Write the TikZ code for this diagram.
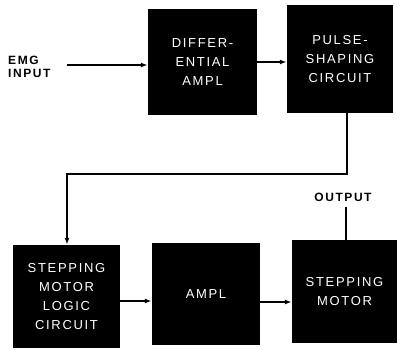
\documentclass[tikz,border=0pt]{standalone}
\usepackage{fontspec}
\setmainfont{Liberation Sans}
\newfontfamily\blockfont[LetterSpace=13]{Liberation Sans}
\newfontfamily\labelfont[LetterSpace=13]{Liberation Sans}
\usetikzlibrary{arrows.meta}
\tikzset{
    block/.style={fill=black,text=white,inner sep=0pt,align=center,
        font=\blockfont\fontsize{13}{19}\selectfont},
    lbl/.style={inner sep=0pt,align=left,font=\labelfont\bfseries\fontsize{12}{12.5}\selectfont},
    wire/.style={line width=1.5pt},
    arr/.style={wire,-{Latex[length=7pt,width=5pt]}}
}
\begin{document}
\begin{tikzpicture}[x=1pt,y=-1pt]
    \useasboundingbox(0,0)rectangle(397,350);
    % top row
    \node[block,minimum width=109pt,minimum height=106pt](diff)at(202.5,62){DIFFER-\\ENTIAL\\AMPL};
    \node[block,minimum width=106pt,minimum height=108pt](pulse)at(340,59){PULSE-\\SHAPING\\CIRCUIT};
    % bottom row
    \node[block,minimum width=107pt,minimum height=103pt](logic)at(66.5,296.5){STEPPING\\MOTOR\\LOGIC\\CIRCUIT};
    \node[block,minimum width=108pt,minimum height=102pt](ampl)at(206,294){AMPL};
    \node[block,minimum width=105pt,minimum height=103pt](motor)at(344.5,291.5){STEPPING\\MOTOR};
    % labels
    \node[lbl,anchor=west](emg)at(8,67){EMG\\INPUT};
    \node[lbl](out)at(343,197){OUTPUT};
    \coordinate(emgin)at(67,65);
    \coordinate(outtop)at(346,207);
    % connectors
    \draw[arr](emgin)--(emgin-|diff.west);
    \draw[arr](diff.east|-0,62)--(pulse.west|-0,62);
    \draw[arr](pulse.south-|347,0)|-(67,174)--(logic.north-|67,0);
    \draw[arr](logic.east|-0,301)--(ampl.west|-0,301);
    \draw[arr](ampl.east|-0,302)--(motor.west|-0,302);
    \draw[wire](outtop)--(outtop|-motor.north);
\end{tikzpicture}
\end{document}
